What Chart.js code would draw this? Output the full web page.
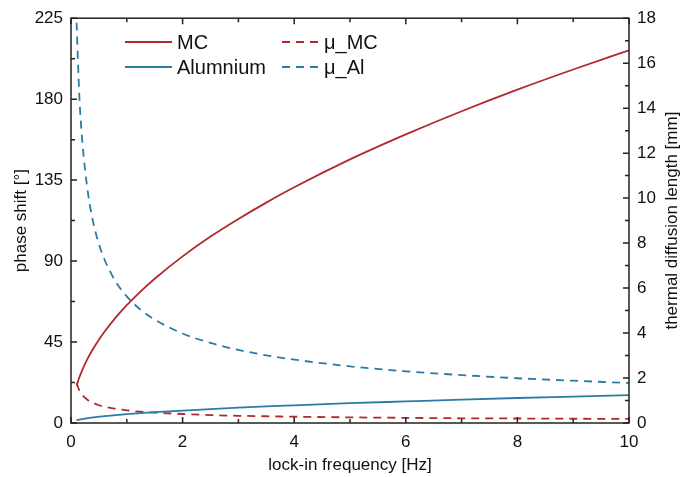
<!DOCTYPE html>
<html>
<head>
<meta charset="utf-8">
<script src="https://cdn.jsdelivr.net/npm/chart.js@4/dist/chart.umd.min.js"></script>
<style>
  html, body { margin: 0; padding: 0; background: #fff; }
  #wrap { width: 694px; height: 477px; }
</style>
</head>
<body>
<div id="wrap"><canvas id="chart" width="694" height="477"></canvas></div>
<script>
// frequencies [Hz]
const freq = [0.1, 0.15, 0.2, 0.3, 0.4, 0.5, 0.6, 0.8, 1, 1.25, 1.5, 2, 2.5, 3, 3.5, 4, 5, 6, 7, 8, 9, 10];

// phase shift [°]
const phaseMC = [20.7, 25.4, 29.3, 35.9, 41.4, 46.3, 50.7, 58.6, 65.5, 73.2, 80.2, 92.6, 103.6, 113.4, 122.5, 131.0, 146.5, 160.4, 173.3, 185.3, 196.5, 207.1];
const phaseAl = [1.55, 1.9, 2.2, 2.7, 3.1, 3.5, 3.8, 4.4, 4.9, 5.5, 6.0, 6.9, 7.75, 8.5, 9.2, 9.8, 11.0, 12.0, 13.0, 13.9, 14.7, 15.5];

// thermal diffusion length [mm]
const muMC = [1.77, 1.45, 1.25, 1.02, 0.89, 0.79, 0.72, 0.63, 0.56, 0.50, 0.46, 0.40, 0.35, 0.32, 0.30, 0.28, 0.25, 0.23, 0.21, 0.20, 0.19, 0.18];
const muAl = [17.8, 14.5, 12.6, 10.3, 8.9, 7.96, 7.27, 6.29, 5.63, 5.03, 4.6, 3.98, 3.56, 3.25, 3.01, 2.82, 2.52, 2.30, 2.13, 1.99, 1.88, 1.78];

const red = '#b1282d';
const blue = '#2a7ba6';
const font = 'Liberation Sans, Arial, sans-serif';

function pts(ys) {
    return freq.map((f, i) => ({ x: f, y: ys[i] }));
}

// inward ticks on all four sides, frame, legend and right title
const decor = {
    id: 'decor',
    afterDraw(chart) {
        const ctx = chart.ctx;
        const a = chart.chartArea;
        const sx = chart.scales.x, sy = chart.scales.y, sy2 = chart.scales.y2;
        ctx.save();
        ctx.strokeStyle = '#222';
        ctx.lineWidth = 1.5;
        ctx.strokeRect(a.left, a.top, a.right - a.left, a.bottom - a.top);

        ctx.beginPath();
        for (let v = 0; v <= 10; v += 1) {
            const px = sx.getPixelForValue(v);
            const len = v % 2 === 0 ? 6 : 4;
            ctx.moveTo(px, a.bottom); ctx.lineTo(px, a.bottom - len);
            ctx.moveTo(px, a.top); ctx.lineTo(px, a.top + len);
        }
        for (let v = 0; v <= 225; v += 22.5) {
            const py = sy.getPixelForValue(v);
            const len = v % 45 === 0 ? 6 : 4;
            ctx.moveTo(a.left, py); ctx.lineTo(a.left + len, py);
        }
        for (let v = 0; v <= 18; v += 1) {
            const py = sy2.getPixelForValue(v);
            const len = v % 2 === 0 ? 6 : 4;
            ctx.moveTo(a.right, py); ctx.lineTo(a.right - len, py);
        }
        ctx.stroke();

        // right axis title, reading bottom to top
        ctx.fillStyle = '#111';
        ctx.font = '17px ' + font;
        ctx.textAlign = 'center';
        ctx.textBaseline = 'middle';
        ctx.translate(672, (a.top + a.bottom) / 2);
        ctx.rotate(-Math.PI / 2);
        ctx.fillText('thermal diffusion length [mm]', 0, 0);
        ctx.restore();

        // legend in two columns
        ctx.save();
        ctx.font = '20px ' + font;
        ctx.textBaseline = 'middle';
        ctx.textAlign = 'left';
        const cols = [125, 282];
        const rows = [42, 67];
        chart.data.datasets.forEach((ds, i) => {
            const x0 = cols[Math.floor(i / 2)];
            const y0 = rows[i % 2];
            ctx.strokeStyle = ds.borderColor;
            ctx.lineWidth = 1.8;
            ctx.setLineDash(ds.borderDash || []);
            ctx.beginPath();
            ctx.moveTo(x0, y0);
            ctx.lineTo(x0 + (i < 2 ? 47 : 39), y0);
            ctx.stroke();
            ctx.setLineDash([]);
            ctx.fillStyle = '#111';
            ctx.fillText(ds.label, x0 + (i < 2 ? 52 : 42), y0 + 1);
        });
        ctx.restore();
    }
};

new Chart(document.getElementById('chart'), {
    type: 'line',
    data: {
        datasets: [
            { label: 'MC', data: pts(phaseMC), yAxisID: 'y', borderColor: red, borderWidth: 1.8 },
            { label: 'Alumnium', data: pts(phaseAl), yAxisID: 'y', borderColor: blue, borderWidth: 1.8 },
            { label: 'μ_MC', data: pts(muMC), yAxisID: 'y2', borderColor: red, borderWidth: 1.8, borderDash: [8, 6] },
            { label: 'μ_Al', data: pts(muAl), yAxisID: 'y2', borderColor: blue, borderWidth: 1.8, borderDash: [8, 6] }
        ]
    },
    options: {
        responsive: false,
        animation: false,
        layout: { padding: { top: 16, right: 0, left: 0, bottom: 0 } },
        elements: {
            point: { radius: 0 },
            line: { cubicInterpolationMode: 'monotone', fill: false }
        },
        plugins: {
            legend: { display: false },
            tooltip: { enabled: false }
        },
        scales: {
            x: {
                type: 'linear', min: 0, max: 10,
                ticks: { stepSize: 2, color: '#111', font: { family: font, size: 17 }, padding: 9 },
                grid: { display: false, drawTicks: false },
                border: { display: false },
                title: { display: true, text: 'lock-in frequency [Hz]', color: '#111',
                         font: { family: font, size: 17 }, padding: { top: 0, bottom: 1 } },
                afterFit(s) { s.height = 54; }
            },
            y: {
                position: 'left', min: 0, max: 225,
                ticks: { stepSize: 45, color: '#111', font: { family: font, size: 17 }, padding: 8 },
                grid: { display: false, drawTicks: false },
                border: { display: false },
                title: { display: true, text: 'phase shift [°]', color: '#111',
                         font: { family: font, size: 17 }, padding: { top: 11, bottom: 0 } },
                afterFit(s) { s.width = 71; }
            },
            y2: {
                position: 'right', min: 0, max: 18,
                ticks: { stepSize: 2, color: '#111', font: { family: font, size: 17 }, padding: 8 },
                grid: { display: false, drawTicks: false },
                border: { display: false },
                afterFit(s) { s.width = 65; }
            }
        }
    },
    plugins: [decor]
});
</script>
</body>
</html>
